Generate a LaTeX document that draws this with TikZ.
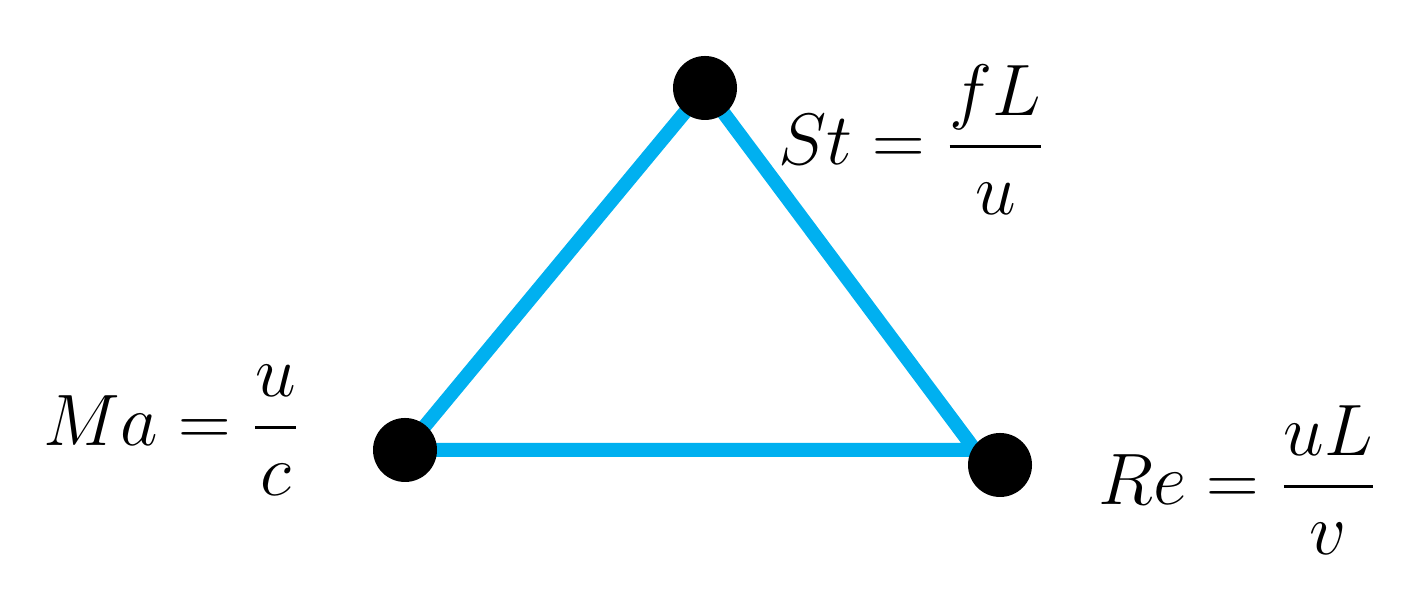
\documentclass[tikz,border=0pt]{standalone}
\usepackage{tikz}
\usepackage{amsmath}
\usepackage{xcolor}
\definecolor{edgeblue}{RGB}{0,176,240}

\begin{document}
\begin{tikzpicture}
        \tikzset{dot/.style={circle,fill=black,inner sep=0pt,minimum size=0.64cm},
                 edge/.style={draw=edgeblue,line width=0.14cm},
                 lab/.style={font=\fontsize{21}{26}\selectfont}}
        \useasboundingbox (0,0) rectangle (14.15,5.90);
        \coordinate(rc) at (9.75,1.40);
        \draw[edge](4.05,1.40)--(7.05,5.02)--(rc)--cycle;
        \node[dot](ma) at (4.05,1.40) {};
        \node[dot](st) at (7.05,5.02) {};
        \node[dot](re) at (10.00,1.25) {};
        \node[lab](malab) at (1.72,1.60) {$Ma=\dfrac{u}{c}$};
        \node[lab](stlab) at (9.12,4.50) {$St=\dfrac{fL}{u}$};
        \node[lab](relab) at (12.38,1.10) {$Re=\dfrac{uL}{v}$};
        \end{tikzpicture}
\end{document}
